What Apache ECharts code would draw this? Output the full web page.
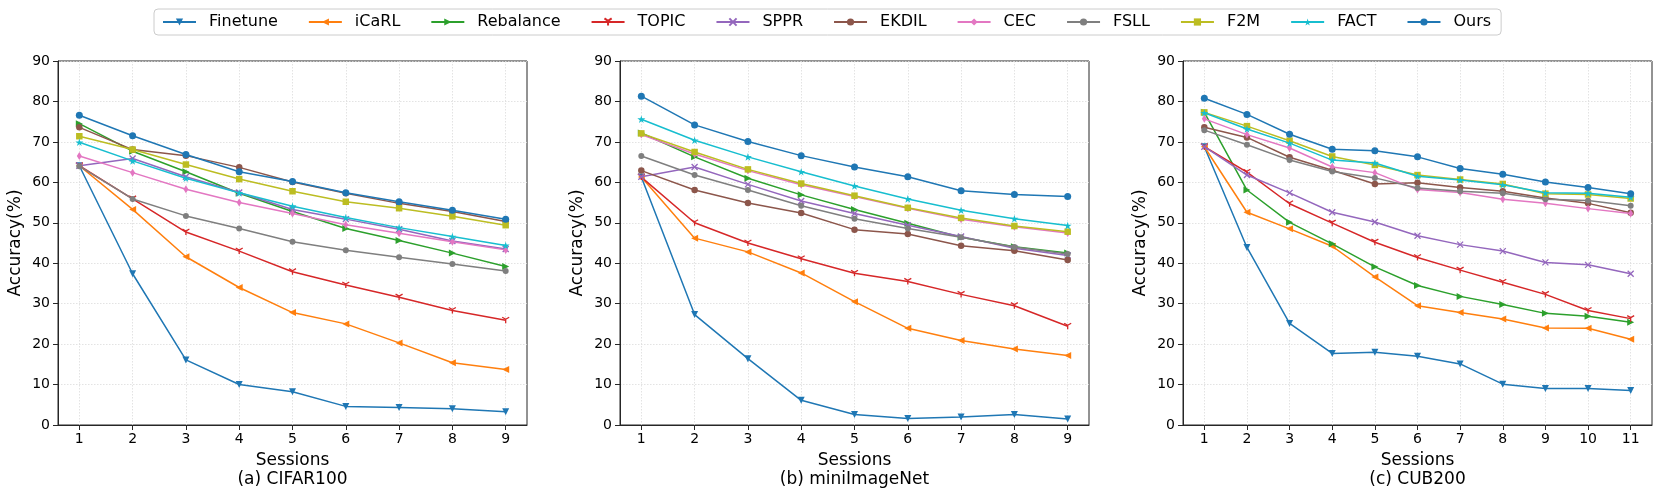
<!DOCTYPE html>
<html>
<head>
<meta charset="utf-8">
<script src="https://cdn.jsdelivr.net/npm/echarts@6/dist/echarts.min.js"></script>
<style>
html,body{margin:0;padding:0;background:#fff;}
#chart{width:1660px;height:499px;}
</style>
</head>
<body>
<div id="chart"></div>
<script>
// ---------- data ----------
const methods = ['Finetune','iCaRL','Rebalance','TOPIC','SPPR','EKDIL','CEC','FSLL','F2M','FACT','Ours'];
const sessions9 = [1,2,3,4,5,6,7,8,9];
const sessions11 = [1,2,3,4,5,6,7,8,9,10,11];
const yTicks = [0,10,20,30,40,50,60,70,80,90];
const subtitles = ['(a) CIFAR100','(b) miniImageNet','(c) CUB200'];

// CIFAR100
const cifarFinetune  = [64.1,37.4,16.1,10.0,8.2,4.6,4.3,4.0,3.3];
const cifarICaRL     = [64.1,53.3,41.6,34.0,27.8,25.0,20.3,15.4,13.7];
const cifarRebalance = [74.5,67.7,62.6,57.3,52.8,48.6,45.6,42.5,39.2];
const cifarTOPIC     = [64.1,55.9,47.7,43.0,37.9,34.6,31.6,28.3,25.9];
const cifarSPPR      = [64.1,65.9,61.4,57.5,53.3,50.9,48.4,45.5,43.5];
const cifarEKDIL     = [73.6,68.1,66.6,63.7,60.1,57.3,54.8,52.8,50.3];
const cifarCEC       = [66.5,62.4,58.3,55.0,52.3,49.5,47.4,45.3,43.3];
const cifarFSLL      = [64.0,55.9,51.7,48.6,45.3,43.2,41.5,39.8,38.1];
const cifarF2M       = [71.4,68.1,64.4,60.8,57.8,55.2,53.6,51.6,49.4];
const cifarFACT      = [69.9,65.3,61.0,57.4,54.1,51.3,48.8,46.6,44.4];
const cifarOurs      = [76.6,71.5,66.9,62.6,60.2,57.4,55.2,53.1,50.9];

// miniImageNet
const miniFinetune  = [61.3,27.3,16.4,6.1,2.6,1.6,2.0,2.6,1.5];
const miniICaRL     = [61.3,46.2,42.8,37.6,30.5,23.9,20.9,18.8,17.2];
const miniRebalance = [72.2,66.3,61.0,56.9,53.3,49.9,46.4,44.1,42.5];
const miniTOPIC     = [61.3,50.0,45.0,41.1,37.5,35.5,32.3,29.5,24.4];
const miniSPPR      = [61.4,63.8,59.5,55.4,52.3,49.4,46.6,43.7,41.9];
const miniEKDIL     = [62.9,58.1,54.9,52.4,48.3,47.2,44.3,43.1,40.8];
const miniCEC       = [71.8,67.0,62.9,59.4,56.5,53.6,50.9,49.0,47.5];
const miniFSLL      = [66.5,61.8,58.1,54.2,51.0,48.6,46.4,44.0,42.3];
const miniF2M       = [72.1,67.5,63.2,59.7,56.7,53.7,51.2,49.2,47.8];
const miniFACT      = [75.6,70.4,66.3,62.6,59.1,55.9,53.1,51.0,49.3];
const miniOurs      = [81.3,74.2,70.1,66.6,63.8,61.4,57.9,57.0,56.5];

// CUB200
const cubFinetune  = [68.8,43.9,25.1,17.7,18.0,17.0,15.1,10.1,9.0,9.0,8.5];
const cubICaRL     = [68.8,52.6,48.5,44.2,36.6,29.5,27.8,26.2,24.0,23.9,21.2];
const cubRebalance = [77.3,58.1,50.1,44.8,39.1,34.5,31.8,29.8,27.6,26.9,25.4];
const cubTOPIC     = [68.8,62.5,54.7,49.9,45.2,41.4,38.3,35.3,32.3,28.3,26.3];
const cubSPPR      = [68.8,61.8,57.4,52.6,50.2,46.8,44.6,43.0,40.2,39.6,37.4];
const cubEKDIL     = [73.6,71.1,66.2,63.0,59.6,59.9,58.7,57.8,56.1,54.8,52.5];
const cubCEC       = [75.7,71.8,68.5,63.8,62.4,58.2,57.5,55.8,54.8,53.5,52.3];
const cubFSLL      = [72.9,69.3,65.5,62.7,61.1,58.6,57.8,57.3,55.8,55.5,54.2];
const cubF2M       = [77.3,73.9,70.3,66.4,64.3,61.8,60.7,59.6,57.2,57.0,56.0];
const cubFACT      = [77.2,73.2,69.7,65.5,64.8,61.5,60.6,59.4,57.4,57.3,56.3];
const cubOurs      = [80.8,76.8,71.9,68.2,67.8,66.3,63.4,62.0,60.1,58.7,57.2];

const cifarData = [cifarFinetune,cifarICaRL,cifarRebalance,cifarTOPIC,cifarSPPR,cifarEKDIL,cifarCEC,cifarFSLL,cifarF2M,cifarFACT,cifarOurs];
const miniData  = [miniFinetune,miniICaRL,miniRebalance,miniTOPIC,miniSPPR,miniEKDIL,miniCEC,miniFSLL,miniF2M,miniFACT,miniOurs];
const cubData   = [cubFinetune,cubICaRL,cubRebalance,cubTOPIC,cubSPPR,cubEKDIL,cubCEC,cubFSLL,cubF2M,cubFACT,cubOurs];

// ---------- styles ----------
const FONT = 'DejaVu Sans';
const colors = ['#1f77b4','#ff7f0e','#2ca02c','#d62728','#9467bd','#8c564b','#e377c2','#7f7f7f','#bcbd22','#17becf','#1f77b4'];
const STAR = 'path://M50,0L61,35L98,35L68,57L79,91L50,70L21,91L32,57L2,35L39,35Z';
const TRI1 = 'path://M5,5L5,10M5,5L0.67,2.5M5,5L9.33,2.5';
const XMARK = 'path://M0,0L10,10M10,0L0,10';
const markers = [
  {symbol:'triangle', rotate:180, size:7, stroke:false},
  {symbol:'triangle', rotate:90, size:7, stroke:false},
  {symbol:'triangle', rotate:-90, size:7, stroke:false},
  {symbol:TRI1, rotate:0, size:7, stroke:true},
  {symbol:XMARK, rotate:0, size:6, stroke:true},
  {symbol:'circle', rotate:0, size:6.5, stroke:false},
  {symbol:'diamond', rotate:0, size:[5,8], stroke:false},
  {symbol:'circle', rotate:0, size:6, stroke:false},
  {symbol:'rect', rotate:0, size:6.5, stroke:false},
  {symbol:STAR, rotate:0, size:8, stroke:false},
  {symbol:'circle', rotate:0, size:7, stroke:false}
];

const panels = [
  {left:58, sessions:sessions9, min:0.6, max:9.4, data:cifarData},
  {left:620, sessions:sessions9, min:0.6, max:9.4, data:miniData},
  {left:1183, sessions:sessions11, min:0.5, max:11.5, data:cubData}
];
const GW = 469, GT = 61, GH = 364;

const grids = [], xAxes = [], yAxes = [], series = [], titles = [];
panels.forEach((p, pi) => {
  grids.push({left:p.left, top:GT, width:GW, height:GH, show:true, borderColor:'#262626', borderWidth:1, containLabel:false});
  xAxes.push({
    type:'value', gridIndex:pi, min:p.min, max:p.max,
    name:'Sessions', nameLocation:'middle', nameGap:27,
    nameTextStyle:{fontFamily:FONT, fontSize:17, color:'#000'},
    axisLine:{show:true, lineStyle:{color:'#262626', width:1}},
    axisTick:{show:true, length:5, customValues:p.sessions, lineStyle:{color:'#262626'}},
    axisLabel:{customValues:p.sessions, margin:7, fontFamily:FONT, fontSize:14, color:'#000'},
    splitLine:{show:true, lineStyle:{color:'#dcdcdc', width:0.8, type:[1.5,1.5]}}
  });
  yAxes.push({
    type:'value', gridIndex:pi, min:0, max:90, interval:10,
    name:'Accuracy(%)', nameLocation:'middle', nameGap:34,
    nameTextStyle:{fontFamily:FONT, fontSize:17, color:'#000'},
    axisLine:{show:true, lineStyle:{color:'#262626', width:1}},
    axisTick:{show:true, length:5, lineStyle:{color:'#262626'}},
    axisLabel:{margin:8, fontFamily:FONT, fontSize:14, color:'#000'},
    splitLine:{show:true, lineStyle:{color:'#dcdcdc', width:0.8, type:[1.5,1.5]}}
  });
  titles.push({text:subtitles[pi], left:p.left + GW/2, top:471, textAlign:'center', padding:0,
    textStyle:{fontFamily:FONT, fontSize:17, fontWeight:'normal', color:'#000'}});
  methods.forEach((m, mi) => {
    const mk = markers[mi];
    series.push({
      name:m, type:'line', xAxisIndex:pi, yAxisIndex:pi,
      data:p.data[mi].map((v, i) => [p.sessions[i], v]),
      symbol:mk.symbol, symbolSize:mk.size, symbolRotate:mk.rotate, symbolKeepAspect:true,
      showSymbol:true,
      lineStyle:{color:colors[mi], width:1.5},
      itemStyle: mk.stroke ? {color:colors[mi], borderColor:colors[mi], borderWidth:1.3}
                           : {color:colors[mi], borderWidth:0},
      emphasis:{disabled:true},
      z: 2 + mi
    });
  });
});

const chart = echarts.init(document.getElementById('chart'), null, {renderer:'canvas'});
chart.setOption({
  animation:false,
  backgroundColor:'#fff',
  title:titles,
  legend:{
    data:methods, left:154, top:9, orient:'horizontal',
    itemWidth:33, itemHeight:9, itemGap:30,
    padding:[5,10,5,8],
    borderColor:'#cccccc', borderWidth:1, borderRadius:4, backgroundColor:'#fff',
    textStyle:{fontFamily:FONT, fontSize:16, color:'#000', padding:[0,0,0,8]}
  },
  grid:grids, xAxis:xAxes, yAxis:yAxes, series:series
});
</script>
</body>
</html>
